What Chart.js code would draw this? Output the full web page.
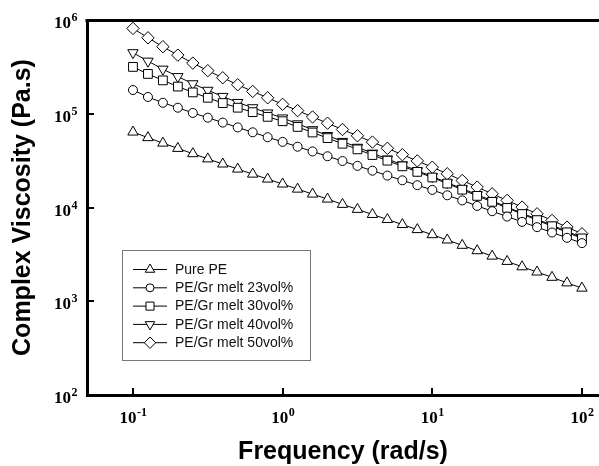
<!DOCTYPE html>
<html>
<head>
<meta charset="utf-8">
<script src="https://cdn.jsdelivr.net/npm/chart.js"></script>
<style>
  html, body { margin: 0; padding: 0; background: #fff; }
  #wrap { width: 599px; height: 466px; }
</style>
</head>
<body>
<div id="wrap"><canvas id="viscChart" width="599" height="466"></canvas></div>
<script>
// frequency (rad/s), 10 points per decade
const freq = [0.1, 0.1259, 0.1585, 0.1995, 0.2512, 0.3162, 0.3981, 0.5012, 0.631, 0.7943,
  1, 1.259, 1.585, 1.995, 2.512, 3.162, 3.981, 5.012, 6.31, 7.943,
  10, 12.59, 15.85, 19.95, 25.12, 31.62, 39.81, 50.12, 63.1, 79.43, 100];

// complex viscosity (Pa.s)
const purePE = [63800, 55600, 48600, 42700, 37500, 33000, 29100, 25700, 22700, 20100,
  17800, 15700, 13900, 12300, 10800, 9550, 8430, 7450, 6580, 5810,
  5130, 4500, 3950, 3460, 3030, 2660, 2330, 2050, 1800, 1570, 1380];
const gr23 = [179000, 151000, 131000, 116000, 102000, 90800, 80500, 71500, 63400, 56200,
  50100, 44500, 39600, 35200, 31300, 27800, 24700, 21900, 19500, 17300,
  15400, 13500, 11900, 10400, 9130, 8010, 7030, 6170, 5410, 4750, 4170];
const gr30 = [316000, 266000, 227000, 195000, 169000, 148000, 130000, 116000, 104000, 92700,
  83200, 72400, 63100, 55000, 47900, 41700, 36300, 31600, 27500, 24000,
  20900, 18000, 15500, 13300, 11500, 9890, 8510, 7330, 6310, 5430, 4680];
const gr40 = [448000, 364000, 299000, 249000, 209000, 178000, 153000, 132000, 116000, 102000,
  90200, 78100, 67600, 58600, 50700, 43900, 38000, 32900, 28500, 24700,
  21400, 18400, 15900, 13700, 11800, 10100, 8710, 7500, 6460, 5560, 4790];
const gr50 = [813000, 646000, 519000, 422000, 347000, 288000, 242000, 204000, 173000, 148000,
  126000, 108000, 92500, 79300, 67900, 58200, 49900, 42800, 36600, 31400,
  26900, 22900, 19400, 16500, 14000, 11900, 10100, 8570, 7280, 6180, 5250];

const seriesNames = ['Pure PE', 'PE/Gr melt 23vol%', 'PE/Gr melt 30vol%', 'PE/Gr melt 40vol%', 'PE/Gr melt 50vol%'];

// tick labels are drawn as 10 with a raised exponent
const xTickValues = [0.1, 1, 10, 100];
const xTickExps = ['-1', '0', '1', '2'];
const yTickValues = [100, 1000, 10000, 100000, 1000000];
const yTickExps = ['2', '3', '4', '5', '6'];

const toPoints = (vals) => freq.map((f, i) => ({ x: f, y: vals[i] }));

const markers = [
  { style: 'triangle', rotation: 0, radius: 6 },
  { style: 'circle', rotation: 0, radius: 4.5 },
  { style: 'rect', rotation: 0, radius: 6.2 },
  { style: 'triangle', rotation: 180, radius: 6 },
  { style: 'rectRot', rotation: 0, radius: 6.2 },
];

const makeDataset = (label, vals, idx) => ({
  label,
  data: toPoints(vals),
  borderColor: '#000',
  borderWidth: 1,
  backgroundColor: '#fff',
  pointStyle: markers[idx].style,
  pointRotation: markers[idx].rotation,
  pointRadius: markers[idx].radius,
  pointBorderColor: '#000',
  pointBackgroundColor: '#fff',
  pointBorderWidth: 1,
  tension: 0,
  fill: false,
});

const baseFont = "bold 17px 'Liberation Serif', 'Times New Roman', serif";
const expFont = "bold 12px 'Liberation Serif', 'Times New Roman', serif";

// inward tick marks, top frame line, power-of-ten labels
const framePlugin = {
  id: 'frame',
  afterDraw(chart) {
    const { ctx, chartArea, scales } = chart;
    ctx.save();
    ctx.strokeStyle = '#000';
    ctx.lineWidth = 3;
    ctx.beginPath();
    ctx.moveTo(chartArea.left - 1.5, chartArea.top + 0.5);
    ctx.lineTo(chartArea.right, chartArea.top + 0.5);
    ctx.stroke();

    ctx.lineWidth = 2;
    ctx.beginPath();
    xTickValues.forEach((v) => {
      const px = Math.round(scales.x.getPixelForValue(v));
      ctx.moveTo(px, chartArea.bottom);
      ctx.lineTo(px, chartArea.bottom - 7);
    });
    yTickValues.forEach((v) => {
      const py = Math.round(scales.y.getPixelForValue(v));
      ctx.moveTo(chartArea.left, py);
      ctx.lineTo(chartArea.left + 7, py);
    });
    ctx.stroke();

    const measure = (exp) => {
      ctx.font = baseFont;
      const wb = ctx.measureText('10').width;
      ctx.font = expFont;
      const we = ctx.measureText(exp).width;
      return { wb, we };
    };
    const drawLabel = (exp, xLeft, baseline, wb) => {
      ctx.font = baseFont;
      ctx.fillText('10', xLeft, baseline);
      ctx.font = expFont;
      ctx.fillText(exp, xLeft + wb + 0.5, baseline - 7);
    };

    ctx.fillStyle = '#000';
    ctx.textAlign = 'left';
    ctx.textBaseline = 'alphabetic';
    xTickValues.forEach((v, i) => {
      const px = scales.x.getPixelForValue(v);
      const { wb, we } = measure(xTickExps[i]);
      drawLabel(xTickExps[i], px - (wb + we) / 2, chartArea.bottom + 28, wb);
    });
    yTickValues.forEach((v, i) => {
      const py = scales.y.getPixelForValue(v);
      const { wb, we } = measure(yTickExps[i]);
      drawLabel(yTickExps[i], chartArea.left - 10 - (wb + we), py + 8, wb);
    });
    ctx.restore();
  },
};

// legend box in lower-left of plot, line + marker samples
const legendPlugin = {
  id: 'boxLegend',
  afterDraw(chart) {
    const { ctx } = chart;
    ctx.save();
    ctx.strokeStyle = '#777';
    ctx.lineWidth = 1;
    ctx.strokeRect(122.5, 250.5, 188, 110);

    chart.data.datasets.forEach((ds, i) => {
      const y = 269.5 + i * 18.3;
      ctx.strokeStyle = '#000';
      ctx.lineWidth = 1;
      ctx.beginPath();
      ctx.moveTo(133, y);
      ctx.lineTo(167, y);
      ctx.stroke();

      ctx.fillStyle = '#fff';
      ctx.strokeStyle = '#000';
      ctx.lineWidth = 1;
      Chart.helpers.drawPoint(ctx, {
        pointStyle: ds.pointStyle,
        rotation: ds.pointRotation,
        radius: ds.pointRadius - 0.5,
        borderWidth: 1,
      }, 150, y);

      ctx.fillStyle = '#111';
      ctx.font = "14px 'Liberation Sans', Arial, sans-serif";
      ctx.textBaseline = 'middle';
      ctx.textAlign = 'left';
      ctx.fillText(ds.label, 175, y + 0.5);
    });
    ctx.restore();
  },
};

const titleFont = { family: "'Liberation Sans', Arial, sans-serif", size: 25, weight: 'bold', lineHeight: 1.1 };

new Chart(document.getElementById('viscChart'), {
  type: 'line',
  data: {
    datasets: [
      makeDataset(seriesNames[0], purePE, 0),
      makeDataset(seriesNames[1], gr23, 1),
      makeDataset(seriesNames[2], gr30, 2),
      makeDataset(seriesNames[3], gr40, 3),
      makeDataset(seriesNames[4], gr50, 4),
    ],
  },
  options: {
    responsive: false,
    animation: false,
    devicePixelRatio: 1,
    layout: { autoPadding: false, padding: { top: 20, right: 0, left: 0, bottom: 0 } },
    plugins: {
      legend: { display: false },
      tooltip: { enabled: false },
    },
    scales: {
      x: {
        type: 'logarithmic',
        position: 'bottom',
        min: 0.0493,
        max: 130,
        afterBuildTicks: (scale) => { scale.ticks = xTickValues.map((v) => ({ value: v })); },
        afterFit: (scale) => {
          scale.height = 71;
          scale.paddingLeft = 0;
          scale.paddingRight = 0;
        },
        grid: { display: false, drawTicks: false },
        border: { display: true, color: '#000', width: 3 },
        ticks: { display: false },
        title: {
          display: true,
          text: 'Frequency (rad/s)',
          color: '#000',
          font: titleFont,
          padding: { top: 0, bottom: 0 },
        },
      },
      y: {
        type: 'logarithmic',
        position: 'left',
        min: 100,
        max: 1000000,
        afterBuildTicks: (scale) => { scale.ticks = yTickValues.map((v) => ({ value: v })); },
        afterFit: (scale) => {
          scale.width = 87;
          scale.paddingTop = 0;
          scale.paddingBottom = 0;
        },
        grid: { display: false, drawTicks: false },
        border: { display: true, color: '#000', width: 3 },
        ticks: { display: false },
        title: {
          display: true,
          text: 'Complex Viscosity (Pa.s)',
          color: '#000',
          font: titleFont,
          padding: { top: 9, bottom: 0 },
        },
      },
    },
  },
  plugins: [framePlugin, legendPlugin],
});
</script>
</body>
</html>
